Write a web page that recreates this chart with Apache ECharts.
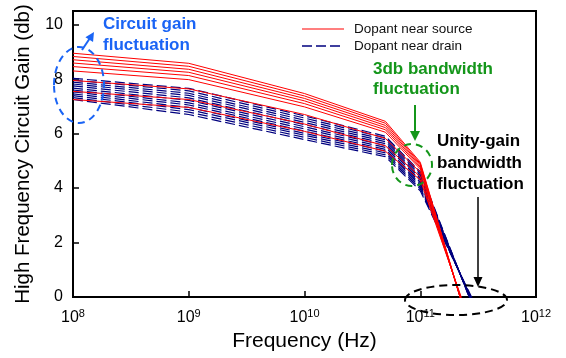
<!DOCTYPE html>
<html><head><meta charset="utf-8">
<script src="https://cdn.jsdelivr.net/npm/echarts@6/dist/echarts.min.js"></script>
<style>html,body{margin:0;padding:0;background:#fff}#c{width:566px;height:358px}</style>
</head><body><div id="c"></div>
<script>
// Frequency points (Hz)
const freq = [1e8, 1e9, 1e10, 5e10, 1e11, 3e11];
// Dopant near source (red solid) gain curves, dB
const sourceGains = [
  [8.95, 8.58, 7.47, 6.45, 4.95, -1.9],
  [8.83, 8.47, 7.38, 6.38, 4.90, -1.9],
  [8.71, 8.36, 7.29, 6.30, 4.86, -1.9],
  [8.59, 8.25, 7.20, 6.22, 4.81, -1.85],
  [8.46, 8.13, 7.10, 6.14, 4.76, -1.85],
  [8.30, 7.98, 6.98, 6.05, 4.70, -1.8],
  [7.95, 7.64, 6.70, 5.82, 4.58, -1.7],
  [7.55, 7.25, 6.35, 5.55, 4.42, -1.6],
  [7.25, 6.96, 6.08, 5.35, 4.30, -1.5]
];
// Dopant near drain (blue dashed) gain curves, dB
const drainGains = [
  [8.03, 7.66, 6.65, 5.90, 4.60, -0.6],
  [7.96, 7.57, 6.57, 5.84, 4.54, -0.58],
  [7.89, 7.48, 6.49, 5.77, 4.48, -0.55],
  [7.82, 7.40, 6.41, 5.70, 4.41, -0.53],
  [7.75, 7.31, 6.33, 5.63, 4.35, -0.5],
  [7.67, 7.22, 6.25, 5.56, 4.29, -0.48],
  [7.60, 7.13, 6.17, 5.49, 4.22, -0.45],
  [7.53, 7.05, 6.09, 5.42, 4.16, -0.43],
  [7.46, 6.96, 6.01, 5.36, 4.10, -0.4],
  [7.39, 6.88, 5.94, 5.29, 4.03, -0.38],
  [7.32, 6.79, 5.86, 5.22, 3.97, -0.35],
  [7.25, 6.70, 5.78, 5.15, 3.90, -0.3]
];
const seriesNames = ['Dopant near source', 'Dopant near drain'];
const yTicks = [0, 2, 4, 6, 8, 10];

const FONT = 'Liberation Sans, Arial, sans-serif';
const RED = '#ff0000', NAVY = '#00007f';
const BLUE_T = '#1a64f5', GREEN = '#14961a';
const DASH = [10, 4];

const series = [];
drainGains.forEach(g => series.push({
  name: seriesNames[1], type: 'line', symbol: 'none', silent: true,
  data: freq.map((f, i) => [f, g[i]]),
  lineStyle: { color: NAVY, width: 1.2, type: DASH }, itemStyle: { color: NAVY }
}));
sourceGains.forEach(g => series.push({
  name: seriesNames[0], type: 'line', symbol: 'none', silent: true,
  data: freq.map((f, i) => [f, g[i]]),
  lineStyle: { color: RED, width: 1 }, itemStyle: { color: RED }
}));

function arrowHead(tx, ty, dx, dy, len, hw, color) {
  const n = Math.hypot(dx, dy); dx /= n; dy /= n;
  const bx = tx - dx * len, by = ty - dy * len;
  return { type: 'polygon', z: 100, shape: { points: [[tx, ty], [bx - dy * hw, by + dx * hw], [bx + dy * hw, by - dx * hw]] }, style: { fill: color } };
}

const graphic = [
  // legend
  { type: 'line', z: 100, shape: { x1: 302, y1: 29, x2: 344, y2: 29 }, style: { stroke: RED, lineWidth: 1.2 } },
  { type: 'text', z: 100, x: 354, y: 29, style: { text: seriesNames[0], fill: '#111', font: '13.5px ' + FONT, verticalAlign: 'middle' } },
  { type: 'line', z: 100, shape: { x1: 302, y1: 46, x2: 344, y2: 46 }, style: { stroke: NAVY, lineWidth: 1.5, lineDash: DASH } },
  { type: 'text', z: 100, x: 354, y: 46, style: { text: seriesNames[1], fill: '#111', font: '13.5px ' + FONT, verticalAlign: 'middle' } },
  // annotations
  { type: 'ellipse', z: 100, shape: { cx: 79, cy: 85, rx: 25, ry: 38 }, style: { fill: 'none', stroke: BLUE_T, lineWidth: 2, lineDash: [7, 5] } },
  { type: 'line', z: 100, shape: { x1: 82, y1: 50, x2: 90, y2: 38 }, style: { stroke: BLUE_T, lineWidth: 2 } },
  arrowHead(94, 32, 10, -16, 9, 4.5, BLUE_T),
  { type: 'text', z: 100, left: 103, top: 14, style: { text: 'Circuit gain\nfluctuation', fill: BLUE_T, font: 'bold 17px ' + FONT, lineHeight: 21 } },
  { type: 'text', z: 100, left: 373, top: 59, style: { text: '3db bandwidth\nfluctuation', fill: GREEN, font: 'bold 17px ' + FONT, lineHeight: 20 } },
  { type: 'line', z: 100, shape: { x1: 415, y1: 105, x2: 415, y2: 132 }, style: { stroke: GREEN, lineWidth: 2 } },
  arrowHead(415, 141, 0, 1, 10, 5, GREEN),
  { type: 'ellipse', z: 100, shape: { cx: 412, cy: 165, rx: 20, ry: 21 }, style: { fill: 'none', stroke: GREEN, lineWidth: 2, lineDash: [7, 5] } },
  { type: 'text', z: 100, left: 437, top: 131, style: { text: 'Unity-gain\nbandwidth\nfluctuation', fill: '#000', font: 'bold 17px ' + FONT, lineHeight: 21.5 } },
  { type: 'line', z: 100, shape: { x1: 478, y1: 197, x2: 478, y2: 278 }, style: { stroke: '#000', lineWidth: 1.5 } },
  arrowHead(478, 287, 0, 1, 10, 4.5, '#000'),
  { type: 'ellipse', z: 100, shape: { cx: 456, cy: 300, rx: 51, ry: 15 }, style: { fill: 'none', stroke: '#000', lineWidth: 2, lineDash: [8, 5] } }
];

const chart = echarts.init(document.getElementById('c'), null, { renderer: 'canvas' });
chart.setOption({
  animation: false,
  backgroundColor: '#fff',
  textStyle: { fontFamily: FONT },
  grid: { left: 73, right: 30, top: 11, bottom: 61, show: true, borderColor: '#000', borderWidth: 2, backgroundColor: 'transparent' },
  xAxis: {
    type: 'log', logBase: 10, min: 1e8, max: 1e12,
    name: 'Frequency (Hz)', nameLocation: 'middle', nameGap: 32,
    nameTextStyle: { fontSize: 21, color: '#000', fontFamily: FONT },
    axisLine: { lineStyle: { color: '#000', width: 2 } },
    axisTick: { inside: true, length: 6, lineStyle: { color: '#000', width: 1.5 } },
    splitLine: { show: false }, minorTick: { show: false },
    axisLabel: {
      margin: 11, color: '#000',
      formatter: v => '{b|10}{s|' + Math.round(Math.log10(v)) + '}',
      rich: { b: { fontSize: 16, color: '#000', fontFamily: FONT }, s: { fontSize: 11, color: '#000', fontFamily: FONT, padding: [0, 0, 9, 0] } }
    }
  },
  yAxis: {
    type: 'value', min: 0, max: 10.5, interval: 2,
    name: 'High Frequency Circuit Gain (db)', nameLocation: 'middle', nameGap: 38,
    nameTextStyle: { fontSize: 20.5, color: '#000', fontFamily: FONT },
    axisLine: { lineStyle: { color: '#000', width: 2 } },
    axisTick: { inside: true, length: 6, lineStyle: { color: '#000', width: 1.5 } },
    splitLine: { show: false },
    axisLabel: { fontSize: 16, color: '#000', margin: 10, formatter: v => (yTicks.indexOf(v) >= 0 ? String(v) : '') }
  },
  series: series,
  graphic: graphic
});
</script></body></html>
